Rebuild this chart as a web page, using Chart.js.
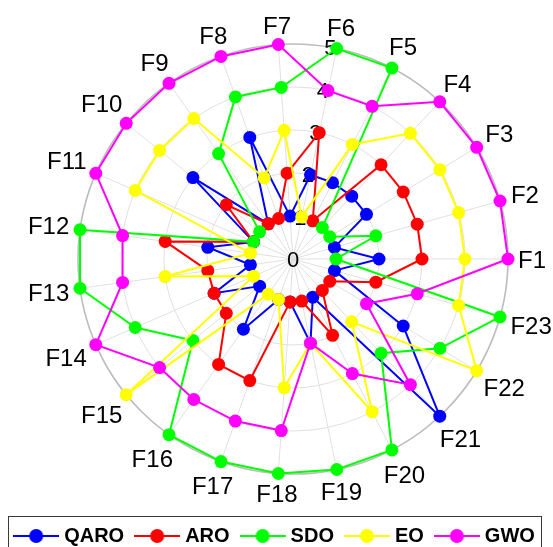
<!DOCTYPE html>
<html>
<head>
<meta charset="utf-8">
<script src="https://cdn.jsdelivr.net/npm/chart.js@4.4.1/dist/chart.umd.min.js"></script>
<style>
html,body{margin:0;padding:0;background:#fff;}
#c{display:block;}
</style>
</head>
<body>
<canvas id="c" width="553" height="547"></canvas>
<script>
// ---------- data (ranks, F1..F23 counter-clockwise) ----------
const categories = ['F1','F2','F3','F4','F5','F6','F7','F8','F9','F10','F11','F12',
                    'F13','F14','F15','F16','F17','F18','F19','F20','F21','F22','F23'];
const seriesNames = ['QARO','ARO','SDO','EO','GWO'];
const QARO = [2,1,2,2,2,2,1,3,1,3,1,2,1,2,1,2,1,1,2,1,5,3,1];
const ARO  = [3,3,3,3,1,3,2,1,1,2,1,3,2,2,2,3,3,1,1,2,1,1,2];
const SDO  = [1,2,1,1,5,5,4,4,3,1,1,5,5,4,3,5,5,5,5,5,3,4,5];
const EO   = [4,4,4,4,3,1,3,2,4,4,4,1,3,1,5,1,1,3,2,4,2,5,4];
const GWO  = [5,5,5,5,4,4,5,5,5,5,5,4,4,5,4,4,4,4,2,3,4,2,3];
const rTicks = [0,1,2,3,4,5];

// ---------- styles ----------
const seriesColors = ['#0000FF','#FF0000','#00FF00','#FFFF00','#FF00FF'];
const seriesValues = [QARO, ARO, SDO, EO, GWO];

// Chart.js goes clockwise; reference goes counter-clockwise starting at F1 on the right
function ccw(arr){ return [arr[0]].concat(arr.slice(1).reverse()); }

function legendImage(color){
  const c = document.createElement('canvas');
  c.width = 46; c.height = 16;
  const g = c.getContext('2d');
  g.strokeStyle = color; g.lineWidth = 2;
  g.beginPath(); g.moveTo(0, 8); g.lineTo(46, 8); g.stroke();
  g.fillStyle = color;
  g.beginPath(); g.arc(23, 8, 7, 0, Math.PI*2); g.fill();
  return c;
}
const legendImgs = seriesColors.map(legendImage);

const FONT = '"Liberation Sans", Arial, Helvetica, sans-serif';

const radarText = {
  id: 'radarText',
  beforeDatasetsDraw(chart){
    const s = chart.scales.r, ctx = chart.ctx;
    ctx.save();
    // radial tick labels along the 80 degree direction
    ctx.font = '22px ' + FONT;
    ctx.fillStyle = '#000';
    ctx.textAlign = 'center';
    ctx.textBaseline = 'alphabetic';
    const a = -80 * Math.PI / 180;
    rTicks.forEach(v => {
      const d = s.getDistanceFromCenterForValue(v);
      ctx.fillText(String(v), s.xCenter + d*Math.cos(a), s.yCenter + d*Math.sin(a) + 22*0.72/2);
    });
    // category labels
    const fs = 24;
    ctx.font = fs + 'px ' + FONT;
    const capH = fs*0.72;
    chart.data.labels.forEach((lab, i) => {
      const p0 = s.getPointPosition(i, s.drawingArea);
      const ang = Math.atan2(p0.y - s.yCenter, p0.x - s.xCenter);
      const w = ctx.measureText(lab).width;
      const ext = Math.abs(Math.cos(ang))*w/2 + Math.abs(Math.sin(ang))*capH/2;
      const p = s.getPointPosition(i, s.drawingArea + 10 + ext);
      ctx.fillText(lab, p.x, p.y + capH/2);
    });
    ctx.restore();
  },
  afterDraw(chart){
    const ctx = chart.ctx;
    ctx.save();
    ctx.strokeStyle = '#3a3a3a';
    ctx.lineWidth = 1;
    ctx.strokeRect(8.5, 516.5, 533, 40);
    ctx.restore();
  }
};

const datasets = seriesNames.map((name, k) => ({
  label: name,
  data: ccw(seriesValues[k]),
  borderColor: seriesColors[k],
  backgroundColor: seriesColors[k],
  pointBackgroundColor: seriesColors[k],
  pointBorderColor: seriesColors[k],
  pointBorderWidth: 0,
  pointRadius: 6.5,
  pointHoverRadius: 6.5,
  borderWidth: 2,
  fill: false,
  tension: 0,
  clip: false,
  order: seriesNames.length - 1 - k
}));

new Chart(document.getElementById('c'), {
  type: 'radar',
  data: { labels: ccw(categories), datasets },
  options: {
    responsive: false,
    animation: false,
    events: [],
    layout: { padding: { left: 0, right: 0, top: 0, bottom: -9 } },
    scales: {
      r: {
        min: 0, max: 5,
        startAngle: 90,
        ticks: { display: false, stepSize: 1 },
        pointLabels: { display: false },
        grid: {
          circular: true,
          color: ctx => (ctx.tick && ctx.tick.value === 5) ? '#bcbcbc' : '#e0e0e0',
          lineWidth: ctx => (ctx.tick && ctx.tick.value === 5) ? 1.6 : 1
        },
        angleLines: { color: '#e0e0e0', lineWidth: 1 },
        afterFit(scale){
          scale.xCenter = 293;
          scale.yCenter = 259;
          scale.drawingArea = 215;
        }
      }
    },
    plugins: {
      tooltip: { enabled: false },
      legend: {
        position: 'bottom',
        labels: {
          usePointStyle: true,
          pointStyleWidth: 36,
          padding: 15,
          color: '#000',
          font: { family: FONT, size: 20, weight: 'bold' },
          sort: (a, b) => a.datasetIndex - b.datasetIndex,
          generateLabels(chart){
            const items = Chart.defaults.plugins.legend.labels.generateLabels(chart);
            items.forEach(it => { it.pointStyle = legendImgs[it.datasetIndex]; });
            return items;
          }
        }
      }
    }
  },
  plugins: [radarText]
});
</script>
</body>
</html>
